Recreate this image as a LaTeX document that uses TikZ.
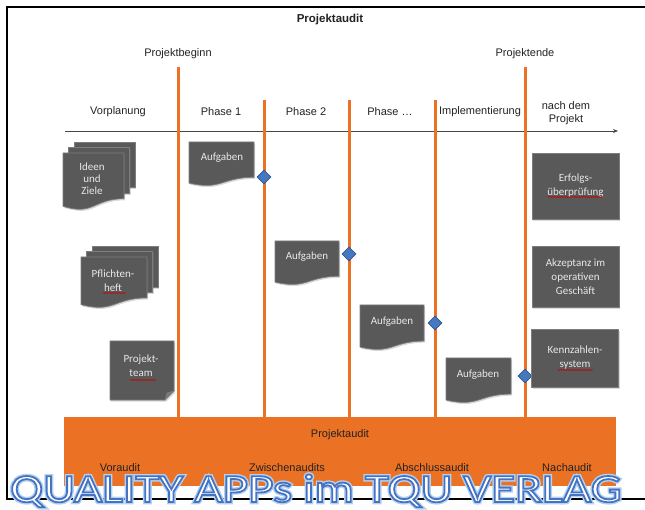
\documentclass[tikz,border=0pt]{standalone}
\usepackage{fontspec}
\setmainfont{Liberation Sans}
\newfontfamily\calibri{Carlito}
\newfontfamily\wmfont[FakeStretch=1.23]{Carlito}
\usetikzlibrary{shapes.geometric,arrows.meta,shadows,decorations.pathmorphing}

\begin{document}
\begin{tikzpicture}[x=1pt,y=-1pt,
  lbl/.style={inner sep=0, outer sep=0, text=labelcol, align=center,
    font=\fontsize{11pt}{13pt}\selectfont},
  boxtext/.style={inner sep=0, outer sep=0, text=boxtextcol, align=center,
    font=\calibri\fontsize{11pt}{14pt}\selectfont},
  softshadow/.style={drop shadow={shadow xshift=1.2pt, shadow yshift=-1.6pt, opacity=.3}},
  docbox/.style={fill=boxcol, draw=boxline, line width=0.7pt, softshadow},
  infobox/.style={docbox, boxtext, minimum width=87, inner sep=0},
  milestone/.style={line width=3pt, orangecol},
  gate/.style={diamond, fill=gatecol, draw=gateline, line width=0.6pt, minimum size=14, inner sep=0},
  timeline/.style={line width=0.8pt, arrowcol, -{Stealth[length=5pt,width=4pt]}},
  squiggle/.style={red!80!black, line width=0.5pt, decorate,
    decoration={snake, segment length=2.2pt, amplitude=0.6pt}},
  wmark/.style={anchor=base, inner sep=0, outer sep=0, font=\wmfont\fontsize{40pt}{40pt}\selectfont}]
\useasboundingbox (0,0) rectangle (645,510);
\definecolor{labelcol}{RGB}{34,34,34}
\definecolor{boxcol}{RGB}{89,89,89}
\definecolor{boxline}{RGB}{125,125,125}
\definecolor{foldcol}{RGB}{120,120,120}
\definecolor{boxtextcol}{RGB}{232,232,232}
\definecolor{orangecol}{RGB}{235,114,36}
\definecolor{gatecol}{RGB}{70,120,190}
\definecolor{gateline}{RGB}{45,85,150}
\definecolor{arrowcol}{RGB}{70,70,70}
\def\docshape#1#2#3#4{\draw[docbox] (#1,#2) -- (#1+#3,#2) -- (#1+#3,#2+0.802*#4) .. controls (#1+0.5*#3,#2+0.802*#4) and (#1+0.5*#3,#2+1.107*#4) .. (#1,#2+0.934*#4) -- cycle;}
\def\pageshape#1#2#3#4{\draw[docbox] (#1,#2) rectangle (#1+#3,#2+0.802*#4);}
\def\outlined#1#2#3{\special{pdf:literal direct 2 Tr #1 w #2 RG}#3\special{pdf:literal direct 0 Tr}}
% frame
\draw [line width=2pt, black] (646,7) -- (7,7) -- (7,499) -- (646,499);
% headings
\node[lbl, font=\bfseries\fontsize{11.5pt}{13pt}\selectfont] (title) at (330,20) {Projektaudit};
\node[lbl] (beginntxt) at (178,54) {Projektbeginn};
\node[lbl] (endetxt) at (525,54) {Projektende};
\node[lbl] (vorpl) at (118,112) {Vorplanung};
\node[lbl] (ph1) at (221,112) {Phase 1};
\node[lbl] (ph2) at (306,112) {Phase 2};
\node[lbl] (phx) at (390,112) {Phase \dots};
\node[lbl] (impl) at (480,112) {Implementierung};
\node[lbl] (nach) at (566,113) {nach dem\\Projekt};
% time axis
\coordinate (t0) at (65,131);
\coordinate (t1) at (618,131);
\draw[timeline] (t0) -- (t1);
% audit bar
\node[fill=orangecol, minimum width=552, minimum height=69, inner sep=0] (bar) at (340,451.5) {};
\node[lbl] (audit) at (340,435) {Projektaudit};
\node[lbl] (voraudit) at (120,468) {Voraudit};
\node[lbl] (zwischen) at (287,468) {Zwischenaudits};
\node[lbl] (abschluss) at (432,468) {Abschlussaudit};
\node[lbl] (nachaudit) at (567,468) {Nachaudit};
% milestones
\coordinate (beginn) at (178,67);
\coordinate (ende) at (525,67);
\coordinate (m1) at (264,100);
\coordinate (m2) at (349,100);
\coordinate (m3) at (435,100);
\foreach \m in {beginn,ende,m1,m2,m3}
  \draw[milestone] (\m) -- (\m |- bar.north);
% stacks on the left
\pageshape{74}{142}{61}{57}
\pageshape{68.5}{147.5}{61}{57}
\docshape{63}{153}{61}{57}
\node[boxtext, font=\calibri\fontsize{11pt}{12pt}\selectfont] (ideen) at (92,179) {Ideen\\und\\Ziele};
\pageshape{92}{246}{66}{51}
\pageshape{86.5}{251.5}{66}{51}
\docshape{81}{257}{66}{51}
\node[boxtext] (pflicht) at (113,281) {Pflichten-\\heft};
\draw[docbox] (110,341) -- (174,341) -- (174,391) -- (165,400) -- (110,400) -- cycle;
\draw[boxline, fill=foldcol, line width=0.6pt] (165,400) -- (167,393) -- (174,391) -- cycle;
\node[boxtext] (team) at (141,366) {Projekt-\\team};
% tasks per phase
\docshape{189}{142}{65}{44}
\node[boxtext] (aufg1) at (222,158) {Aufgaben};
\docshape{275}{241}{64}{44}
\node[boxtext] (aufg2) at (307,257) {Aufgaben};
\docshape{360}{305}{64}{45}
\node[boxtext] (aufg3) at (392,322) {Aufgaben};
\docshape{446}{358}{65}{45}
\node[boxtext] (aufg4) at (478,375) {Aufgaben};
\node[gate] (g1) at (264,177) {};
\node[gate] (g2) at (349,254) {};
\node[gate] (g3) at (435,323) {};
\node[gate] (g4) at (525,376) {};
% after the project
\node[infobox, minimum height=66] (erfolg) at (575.5,186) {Erfolgs-\\überprüfung};
\node[infobox, minimum height=61] (akzept) at (575.5,276.5) {Akzeptanz im\\operativen\\Geschäft};
\node[infobox, minimum height=58] (kennz) at (575,358) {Kennzahlen-\\system};
\draw[squiggle] (548,197) -- (603,197);
\draw[squiggle] (103,293) -- (126,293);
\draw[squiggle] (130,380) -- (156,380);
\draw[squiggle] (558,370) -- (593,370);
% watermark
\node[wmark, text={rgb,255:red,180;green,208;blue,240}] (wmglow) at (316,502)
  {\outlined{4.6}{0.71 0.82 0.94}{QUALITY APPs im TQU VERLAG}};
\node[wmark, text=white] (wm) at (316,502)
  {\outlined{1.8}{0.27 0.45 0.77}{QUALITY APPs im TQU VERLAG}};
\end{tikzpicture}
\end{document}
